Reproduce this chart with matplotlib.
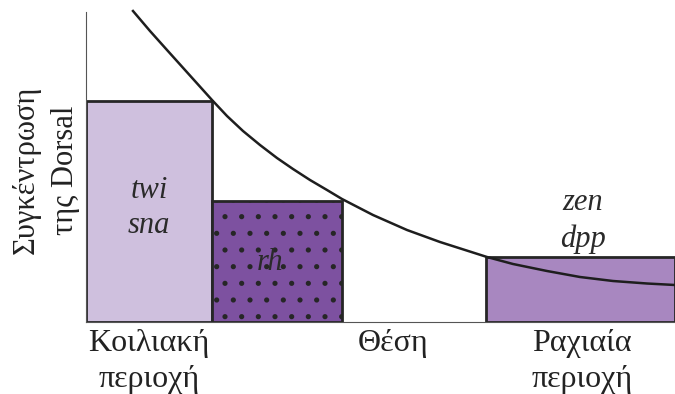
import matplotlib.pyplot as plt

plt.rcParams['font.family'] = ['Liberation Serif', 'DejaVu Serif']
plt.rcParams['hatch.linewidth'] = 1.3
plt.rcParams['hatch.color'] = '#1a1a1a'

# bar regions (left edge, width, height) in axis units
bar_left = [0, 126, 400]
bar_width = [126, 130, 189]
bar_height = [221, 121, 65]
bar_colors = ['#cfc0de', '#7d51a0', '#a887c0']

# dorsal gradient curve
curve_x = [47, 64, 81, 99, 126, 141, 157, 174, 191, 207, 224, 241, 256,
           287, 321, 354, 401, 427, 461, 494, 527, 561, 589]
curve_y = [311, 291, 272, 252, 222, 206, 191, 177, 164, 153, 142, 132, 123,
           107, 92, 80, 65, 58, 51, 45, 41, 38.5, 37]

fig = plt.figure(figsize=(6.75, 3.94), dpi=100)
ax = fig.add_axes([86 / 675, 72 / 394, 589 / 675, 310 / 394])

bars = ax.bar(bar_left, bar_height, width=bar_width, align='edge',
              color=bar_colors, edgecolor='#262626', linewidth=2, zorder=2)
bars[1].set_hatch('.')

ax.plot(curve_x, curve_y, color='#1e1e1e', linewidth=1.8, zorder=3,
        clip_on=False, solid_joinstyle='round')

# gene labels inside / above the bars
ax.text(63, 114, 'twi\nsna', ha='center', va='center', fontsize=22,
        style='italic', color='#2a2a2a', linespacing=1.3, zorder=4)
ax.text(184, 60, 'rh', ha='center', va='center', fontsize=22,
        style='italic', color='#2a2a2a', zorder=4)
ax.text(497, 101, 'zen\ndpp', ha='center', va='center', fontsize=22,
        style='italic', color='#2a2a2a', linespacing=1.3, zorder=4)

ax.set_xlim(0, 589)
ax.set_ylim(0, 310)
ax.set_xticks([63, 307, 496])
ax.set_xticklabels(['Κοιλιακή\nπεριοχή', 'Θέση', 'Ραχιαία\nπεριοχή'],
                   fontsize=23, va='top', color='#222222')
for lbl in ax.get_xticklabels():
    lbl.set_linespacing(1.3)
ax.tick_params(axis='x', length=0, pad=5)
ax.set_yticks([])

fig.text(46 / 675, 1 - 170 / 394, 'Συγκέντρωση\nτης Dorsal', rotation=90,
         ha='center', va='center', fontsize=22, color='#222222',
         linespacing=1.5, multialignment='center')

ax.spines['top'].set_visible(False)
ax.spines['right'].set_visible(False)
ax.spines['left'].set_color('#555555')
ax.spines['left'].set_linewidth(0.8)
ax.spines['bottom'].set_color('#555555')
ax.spines['bottom'].set_linewidth(0.8)

plt.savefig('out.png', dpi=100)
